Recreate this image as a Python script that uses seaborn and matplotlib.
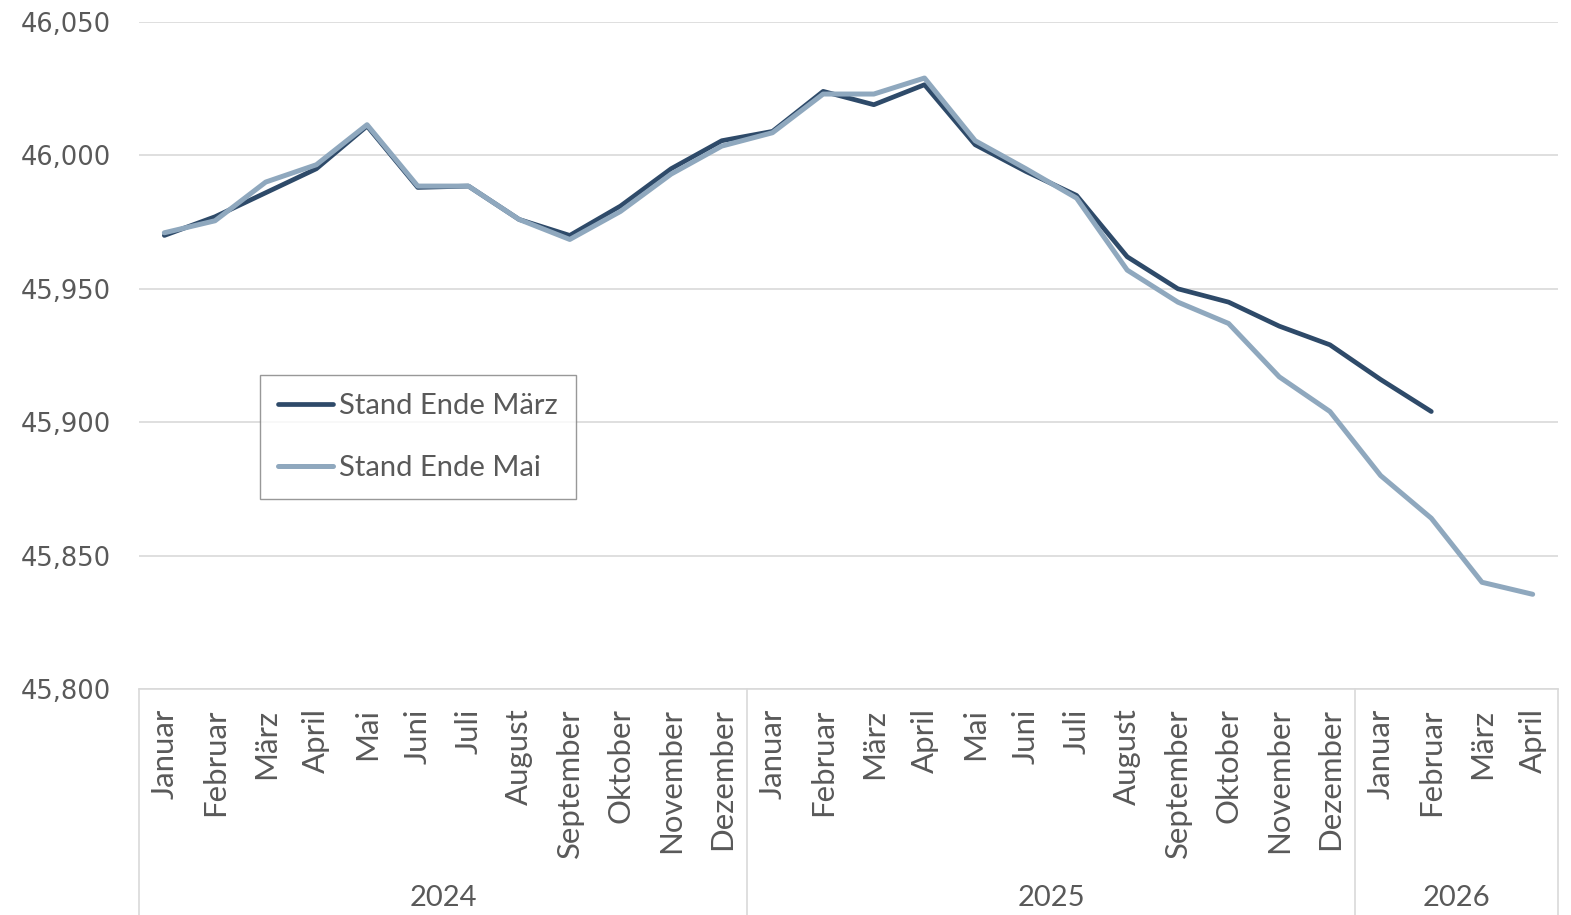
import numpy as np
import pandas as pd
import matplotlib
matplotlib.use("Agg")
import matplotlib.pyplot as plt
import matplotlib.transforms as mtransforms
from matplotlib.ticker import FuncFormatter
import seaborn as sns

# Monate / Jahre
months = ['Januar', 'Februar', 'März', 'April', 'Mai', 'Juni', 'Juli', 'August',
          'September', 'Oktober', 'November', 'Dezember',
          'Januar', 'Februar', 'März', 'April', 'Mai', 'Juni', 'Juli', 'August',
          'September', 'Oktober', 'November', 'Dezember',
          'Januar', 'Februar', 'März', 'April']
years = ['2024', '2025', '2026']
months_per_year = [12, 12, 4]

# Werte
stand_maerz = [45970, 45977, 45986, 45995, 46011, 45988, 45988.5, 45976, 45970, 45981,
               45995, 46005.5, 46009, 46024, 46019, 46026.5, 46004, 45994, 45985, 45962,
               45950, 45945, 45936, 45929, 45916, 45904, np.nan, np.nan]
stand_mai = [45971, 45975.5, 45990, 45996.5, 46011.5, 45988.5, 45988.5, 45976, 45968.5, 45979,
             45993, 46003.5, 46008.5, 46023, 46023, 46029, 46005.5, 45995, 45984, 45957,
             45945, 45937, 45917, 45904, 45880, 45864, 45840, 45835.5]

serie_names = ['Stand Ende März', 'Stand Ende Mai']
colors = ['#2E4A69', '#8FA8BE']

idx = np.arange(len(months))
df = pd.concat([
    pd.DataFrame({'x': idx, 'wert': stand_maerz, 'serie': serie_names[0]}),
    pd.DataFrame({'x': idx, 'wert': stand_mai, 'serie': serie_names[1]}),
])

sns.set_style("white")
plt.rcParams['font.family'] = ['Lato', 'DejaVu Sans']

fig = plt.figure(figsize=(15.71, 9.15), dpi=100)
ax = fig.add_axes([139 / 1571, 1 - 689 / 915, 1419 / 1571, 667 / 915])

for name, col, lw in zip(serie_names, colors, [3.4, 3.6]):
    sns.lineplot(data=df[df.serie == name], x='x', y='wert', color=col, linewidth=lw,
                 ax=ax, label=name, solid_capstyle='round', solid_joinstyle='round')

ax.set_xlim(-0.5, len(months) - 0.5)
ax.set_ylim(45800, 46050)
ax.set_yticks(np.arange(45800, 46051, 50))
ax.yaxis.set_major_formatter(FuncFormatter(lambda v, p: f'{v:,.0f}'))
ax.grid(axis='y', color='#d9d9d9', linewidth=1.2)
ax.grid(axis='x', visible=False)
for s in ['left', 'right', 'top']:
    ax.spines[s].set_visible(False)
ax.spines['bottom'].set_color('#d9d9d9')
ax.spines['bottom'].set_linewidth(1.2)

ax.set_xticks(idx)
ax.set_xticklabels(months, rotation=90, fontsize=22.4, color='#595959')
ax.tick_params(axis='x', length=0, pad=14)
ax.tick_params(axis='y', length=0, pad=20, labelsize=18.5, labelcolor='#595959')
for t in ax.get_yticklabels():
    t.set_fontfamily('DejaVu Sans')
ax.set_xlabel('')
ax.set_ylabel('')

# Jahresebene der Achse
trans = mtransforms.blended_transform_factory(ax.transData, fig.transFigure)
start = -0.5
bounds = [start]
for y, n in zip(years, months_per_year):
    mid = start + n / 2
    ax.text(mid, 1 - 898 / 915, y, transform=trans, ha='center', va='center',
            fontsize=21, color='#595959')
    start += n
    bounds.append(start)
for b in bounds:
    ax.plot([b, b], [1 - 689 / 915, 0], transform=trans, color='#d9d9d9',
            linewidth=1.2, clip_on=False)

leg = ax.legend(loc='upper left', bbox_to_anchor=(0.085, 0.471), fontsize=21,
                frameon=True, fancybox=False, edgecolor='#7f7f7f', handlelength=1.9,
                handletextpad=0.2, labelspacing=1.25, borderpad=0.62, borderaxespad=0)
leg.get_frame().set_linewidth(1.0)
for t in leg.get_texts():
    t.set_color('#595959')

fig.savefig('out.png', dpi=100)
